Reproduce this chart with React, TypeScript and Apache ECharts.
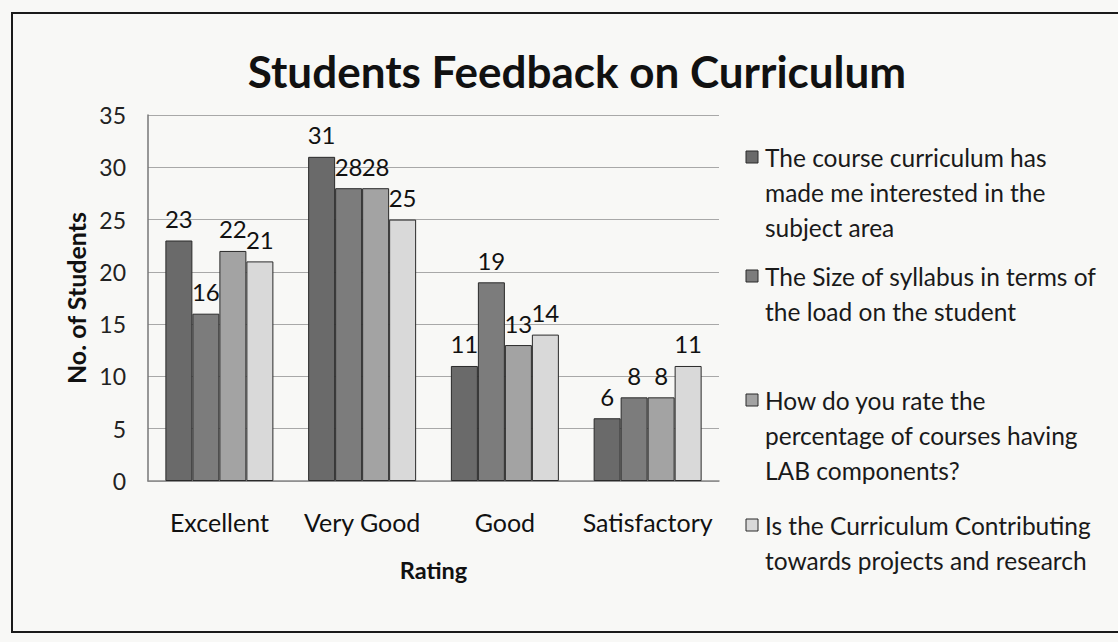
import React, { useEffect, useRef } from "react";
import * as echarts from "echarts";

const categories = ["Excellent", "Very Good", "Good", "Satisfactory"];
const seriesNames = [
  "The course curriculum has\nmade me interested in the\nsubject area",
  "The Size of syllabus in terms of\nthe load on the student",
  "How do you rate the\npercentage of courses having\nLAB components?",
  "Is the Curriculum Contributing\ntowards projects and research",
];
const interestValues = [23, 31, 11, 6];
const syllabusValues = [16, 28, 19, 8];
const labValues = [22, 28, 13, 8];
const projectValues = [21, 25, 14, 11];
const yTicks = [0, 5, 10, 15, 20, 25, 30, 35];

const seriesData = [interestValues, syllabusValues, labValues, projectValues];
const colors = ["#6a6a6a", "#7c7c7c", "#a3a3a3", "#d9d9d9"];
const legendFirstLine = [157, 276, 400, 525];
const FONT = "Lato, 'Noto Sans', sans-serif";

export default function App() {
  const ref = useRef<HTMLDivElement>(null);
  useEffect(() => {
    document.body.style.margin = "0";
    const chart = echarts.init(ref.current!, null, { renderer: "svg" });
    const legendGraphics = seriesNames.map((name, i) => ({
      type: "group",
      children: [
        {
          type: "rect",
          shape: { x: 746, y: legendFirstLine[i] - 6, width: 12, height: 12 },
          style: { fill: colors[i], stroke: "#2a2a2a", lineWidth: 1 },
        },
        {
          type: "text",
          x: 765,
          y: legendFirstLine[i] - 17.5,
          style: {
            text: name,
            fontFamily: FONT,
            fontSize: 24.5,
            lineHeight: 35,
            fill: "#1a1a1a",
            verticalAlign: "top",
            align: "left",
          },
        },
      ],
    }));
    chart.setOption({
      animation: false,
      backgroundColor: "#f8f8f6",
      title: {
        text: "Students Feedback on Curriculum",
        left: 572,
        top: 44,
        textAlign: "center",
        textStyle: { fontFamily: FONT, fontSize: 44, fontWeight: "bold", color: "#111" },
      },
      graphic: [
        {
          type: "rect",
          shape: { x: 12, y: 13, width: 1130, height: 619 },
          style: { fill: "none", stroke: "#1a1a1a", lineWidth: 2 },
          silent: true,
        },
        ...legendGraphics,
      ],
      grid: { left: 148, right: 399, top: 115, bottom: 161, containLabel: false },
      xAxis: {
        type: "category",
        data: categories,
        name: "Rating",
        nameLocation: "middle",
        nameGap: 77,
        nameTextStyle: { fontFamily: FONT, fontSize: 23.5, fontWeight: "bold", color: "#111" },
        axisLine: { lineStyle: { color: "#888", width: 1.5 } },
        axisTick: { show: false },
        axisLabel: { interval: 0, fontFamily: FONT, fontSize: 25, color: "#111", margin: 28 },
      },
      yAxis: {
        type: "value",
        min: 0,
        max: 35,
        interval: 5,
        name: "No. of Students",
        nameLocation: "middle",
        nameGap: 57,
        nameTextStyle: { fontFamily: FONT, fontSize: 25, fontWeight: "bold", color: "#111" },
        axisLine: { show: true, lineStyle: { color: "#777", width: 1.5 } },
        axisTick: { show: false },
        axisLabel: {
          fontFamily: FONT,
          fontSize: 23,
          color: "#222",
          margin: 22,
          formatter: (v: number) => (yTicks.includes(v) ? String(v) : ""),
        },
        splitLine: { lineStyle: { color: "#a8a8a8", width: 1.2 } },
      },
      series: seriesData.map((d, i) => ({
        name: seriesNames[i],
        type: "bar",
        data: d,
        barWidth: 27,
        barGap: "0%",
        itemStyle: { color: colors[i], borderColor: "#2a2a2a", borderWidth: 1 },
        label: {
          show: true,
          position: "top",
          distance: 10,
          fontFamily: FONT,
          fontSize: 24,
          color: "#111",
        },
      })),
    });
    return () => chart.dispose();
  }, []);
  return (
    <div
      ref={ref}
      style={{ position: "absolute", left: 0, top: 0, width: 1118, height: 642 }}
    />
  );
}
